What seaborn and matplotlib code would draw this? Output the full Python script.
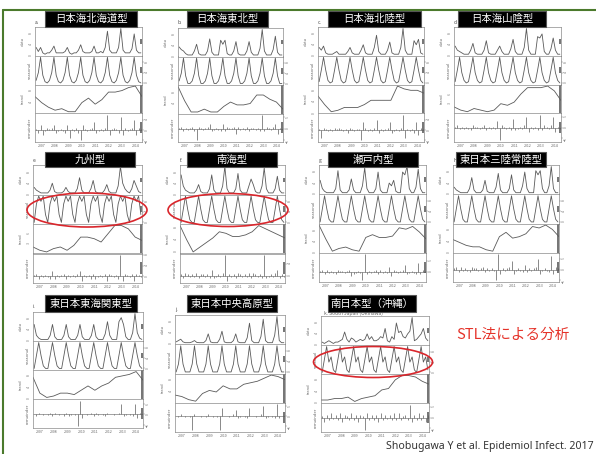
import numpy as np
import seaborn as sns
import matplotlib.pyplot as plt
from matplotlib.patches import Rectangle, Ellipse
from matplotlib.lines import Line2D
from matplotlib.ticker import MaxNLocator

# titres des panneaux
titles = ['日本海北海道型', '日本海東北型', '日本海北陸型', '日本海山陰型',
          '九州型', '南海型', '瀬戸内型', '東日本三陸常陸型',
          '東日本東海関東型', '東日本中央高原型', '南日本型（沖縄）']
letters = ['a.', 'b.', 'c.', 'd.', 'e.', 'f.', 'g.', 'h.', 'i.', 'j.', 'k. South Japan (Okinawa)']
year_labels = ['2007', '2008', '2009', '2010', '2011', '2012', '2013', '2014']
comp_names = ['data', 'seasonal', 'trend', 'remainder']

# a. 日本海北海道型
a_data = [3,1.5,3,1,.5,1, 1,2,3.5,1,1,1, 1,1.5,3,1,.5,1, 1,2,4,1.5,1,1, 1,1.5,3.5,1,1,1.5, 1,3,9,2,1,1, 1,3,10,2,1,1, 1,2.5,8,2,1,1]
a_seas = [1,4,10,3,.5,0, 1,4,10,3,.5,0, 1,4,10,3,.5,0, 1,4,10,3,.5,0, 1,4,10,3,.5,0, 1,4,10,3,.5,0, 1,4,10,3,.5,0, 1,4,10,3,.5,0]
a_trend = [6,4,2.5,1.5,2,1,1,4,5.5,3.5,5,7.5,7.5,8,9,9.5,6]
a_rem = [.5,-1,2,-2,-.5,1, .5,1,2,-1,-.5,.5, -.5,-1,2,-3,.5,-.5, 1,-1,-4,2,.5,-.5, .5,1,3,-1,-.5,.5, -.5,1,6,-2,.5,1, .5,-1,5,-2,1,-.5, .5,1,4,-2,1,.5]

# b. 日本海東北型
b_data = [3.5,2.5,2,1,.5,.5, .5,2,4.5,1,.5,.5, .5,2,6.5,1.5,.5,.5, .5,6,4.5,6,1,.5, .5,2,5.5,1,.5,.5, .5,2,5.5,1.5,.5,.5, .5,3,10,2,.5,.5, .5,2.5,7.5,1.5,.5,.5]
b_seas = [1,4,10,3,0,0, 1,4,10,3,0,0, 1,4,10,3,0,0, 1,4,10,3,0,0, 1,4,10,3,0,0, 1,4,10,3,0,0, 1,4,10,3,0,0, 1,4,10,3,0,0]
b_trend = [10,5,1,1,2,1,1,3,4.5,3.5,3.5,4,7,7,5.5,4.5,2]
b_rem = [.5,1,-1,.5,-.5,.5, 1,-1,-5,1,.5,-.5, .5,1,2,-1,-.5,.5, -.5,-1,2,-1,1,.5, .5,1,-2,1,-.5,.5, -.5,1,-1,.5,.5,-.5, .5,-1,6,-1,1,.5, -.5,1,2,-2,.5,-.5]

# c. 日本海北陸型
c_data = [3,2,3.5,1,.5,.5, .5,1,1.5,.5,.5,.5, .5,1.5,3,1,.5,.5, .5,2,4,1,.5,.5, .5,3,7.5,1.5,.5,.5, .5,2,5,1,.5,.5, .5,3,10,2,.5,.5, .5,5.5,4,6,1,.5]
c_seas = [.5,5,10,5,1,0, .5,5,10,5,1,0, .5,5,10,5,1,0, .5,5,10,5,1,0, .5,5,10,5,1,0, .5,5,10,5,1,0, .5,5,10,5,1,0, .5,5,10,5,1,0]
c_trend = [6,3,.5,1,2,2,2,3,4.5,4.5,4.5,4.5,9.5,8.5,8,8,7]
c_rem = [.5,-3,1,.5,-.5,.5, -.5,1,.5,1,.5,-.5, .5,-1,1,.5,-.5,.5, .5,-4,3,1,-.5,.5, -.5,1,4,-1,.5,-.5, .5,1,3,-1,-.5,.5, -.5,1,6,-3,.5,-.5, .5,-1,3,-2,1,.5]

# d. 日本海山陰型
d_data = [3.5,2,1.5,1,.5,.5, .5,2,4.5,1,.5,.5, .5,2,5.5,1,.5,.5, .5,2,3.5,1.5,.5,.5, .5,2.5,6,1.5,.5,.5, .5,3,10,2,.5,.5, .5,7,6.5,8,1.5,.5, .5,2.5,6.5,2,.5,.5]
d_seas = [.5,5,10,4,1,0, .5,5,10,4,1,0, .5,5,10,4,1,0, .5,5,10,4,1,0, .5,5,10,4,1,0, .5,5,10,4,1,0, .5,5,10,4,1,0, .5,5,10,4,1,0]
d_trend = [2,1,.5,1.5,1,.5,1,3,2.5,3.5,6,8,8,8,8.5,7,4]
d_rem = [.5,1,-.5,.5,-.5,.5, -.5,-1,1,.5,.5,-.5, .5,1,-1,.5,-.5,.5, -.5,3,-6,1,.5,-.5, .5,-1,4,-1,-.5,.5, -.5,1,5,-2,.5,-.5, .5,-1,6,-1,1,.5, -.5,1,5,-2,.5,-.5]

# e. 九州型
e_data = [2.5,1.5,1,.5,.5,.5, .5,1.5,4,1,.5,.5, .5,1,2.5,1,.5,.5, .5,2,6,1.5,.5,.5, .5,2,5,1,.5,.5, .5,1.5,3.5,1,.5,.5, .5,3,10,4,2,1, .5,2,5,3,1,.5]
e_seas = [0,7,10,8,10,3, 0,7,10,8,10,3, 0,7,10,8,10,3, 0,7,10,8,10,3, 0,7,10,8,10,3, 0,7,10,8,10,3, 0,7,10,8,10,3, 0,7,10,8,10,3]
e_trend = [2,1,.5,1.5,2,1,2.5,5,5,4.5,3.5,6,8.5,8.5,7.5,5,4]
e_rem = [.5,1,-1,.5,-.5,.5, -.5,-1,2,-1,.5,-.5, .5,1,-1,.5,-.5,.5, -.5,1,2,-2,.5,-.5, .5,-1,1,-1,-.5,.5, -.5,1,-2,1,.5,-.5, .5,-1,8,-2,1,.5, -.5,1,-2,1,.5,-.5]

# f. 南海型
f_data = [7,3,1.5,1,.5,.5, .5,1.5,3.5,1,.5,.5, .5,2,7,1.5,.5,.5, .5,3,10,2,.5,.5, .5,2,7.5,1.5,.5,.5, .5,3,5.5,3.5,1,.5, .5,3,9.5,2,.5,.5, .5,2,6.5,1.5,.5,.5]
f_seas = [0,5,10,5,1,0, 0,5,10,5,1,0, 0,5,10,5,1,0, 0,5,10,5,1,0, 0,5,10,5,1,0, 0,5,10,5,1,0, 0,5,10,5,1,0, 0,5,10,5,1,0]
f_trend = [8.5,4,0,1.5,3,4.5,6.5,6,5,5,5.5,6.5,8.5,7.5,6.5,5.5,4.5]
f_rem = [.5,-1,1,.5,-.5,.5, -.5,1,-1,.5,.5,-.5, .5,-1,2,-1,-.5,.5, -.5,1,7,-2,.5,-.5, .5,-1,1,.5,-.5,.5, -.5,1,-1,1,.5,-.5, .5,-1,7,-1,-.5,.5, -.5,1,2,-1,.5,-.5]

# g. 瀬戸内型
g_data = [5,2,1,.5,.5,.5, .5,2,8.5,1.5,.5,.5, .5,1.5,5.5,1.5,.5,.5, .5,3,9.5,2,.5,.5, .5,2,8,1.5,.5,.5, .5,4,3,5,1,.5, .5,8,7,10,2,.5, .5,2.5,9,2,.5,.5]
g_seas = [0,5,10,5,1,0, 0,5,10,5,1,0, 0,5,10,5,1,0, 0,5,10,5,1,0, 0,5,10,5,1,0, 0,5,10,5,1,0, 0,5,10,5,1,0, 0,5,10,5,1,0]
g_trend = [10,5,.5,1.5,2,1,.5,5.5,6.5,5.5,5.5,6,9,8.5,9.5,7.5,5]
g_rem = [.5,1,-1,1,-.5,.5, -.5,-1,1,.5,.5,-.5, .5,1,-2,-1,-.5,.5, -.5,-4,8,-1,.5,-.5, .5,1,-1,1,-.5,.5, -.5,2,-2,1,.5,-.5, .5,1,3,-1,-.5,.5, -.5,-1,4,-1,1,.5]

# h. 東日本三陸常陸型
h_data = [2.5,1.5,1,.5,.5,.5, .5,2,6,1.5,.5,.5, .5,1.5,5,1,.5,.5, .5,2.5,7.5,1.5,.5,.5, .5,2,7,1.5,.5,.5, .5,3,8,2,.5,.5, .5,8.5,7,8.5,2,.5, .5,3,10,2,.5,.5]
h_seas = [0,5,10,5,1,0, 0,5,10,5,1,0, 0,5,10,5,1,0, 0,5,10,5,1,0, 0,5,10,5,1,0, 0,5,10,5,1,0, 0,5,10,5,1,0, 0,5,10,5,1,0]
h_trend = [4.5,3.5,2.5,2,2,1,.5,5.5,7,5,5.5,6.5,9,8.5,9.5,8,5.5]
h_rem = [.5,1,-1,1,-.5,.5, -.5,-1,1,.5,.5,-.5, .5,1,-1,.5,-.5,.5, -.5,-5,7,-2,.5,-.5, .5,1,4,-2,-.5,.5, -.5,-1,2,-1,.5,-.5, .5,1,5,-2,-.5,.5, -.5,-1,6,-2,1,.5]

# i. 東日本東海関東型
i_data = [6,2,1,.5,.5,.5, .5,2,6,1.5,.5,.5, .5,2,6,1.5,.5,.5, .5,2,6,1.5,.5,.5, .5,2,6,1.5,.5,.5, .5,2.5,7,2,.5,.5, .5,7,8.5,6,1.5,.5, .5,3,10,3,1,.5]
i_seas = [0,5,10,5,1,0, 0,5,10,5,1,0, 0,5,10,5,1,0, 0,5,10,5,1,0, 0,5,10,5,1,0, 0,5,10,5,1,0, 0,5,10,5,1,0, 0,5,10,5,1,0]
i_trend = [7.5,2,.5,1,2,2,1.5,3,4.5,3,4.5,5.5,7.5,8,8.5,9.5,6.5]
i_rem = [.5,-1,1,.5,-.5,.5, -.5,1,-1,1,.5,-.5, .5,-1,1,-1,-.5,.5, -.5,-7,8,-2,.5,-.5, .5,1,-1,1,-.5,.5, -.5,-1,1,.5,.5,-.5, .5,1,6,-1,-.5,.5, -.5,-1,6,-2,1,.5]

# j. 東日本中央高原型
j_data = [.5,1,1.5,.5,.2,.2, .2,.5,1,.3,.2,.2, .2,1,3.5,.5,.2,.2, .2,1.5,4.5,.5,.2,.2, .2,1,3.5,.5,.2,.2, .2,2,7.5,1,.2,.2, .2,2.5,9,1,.2,.2, .2,3,10,1,.2,.2]
j_seas = [0,3,10,3,0,0, 0,3,10,3,0,0, 0,3,10,3,0,0, 0,3,10,3,0,0, 0,3,10,3,0,0, 0,3,10,3,0,0, 0,3,10,3,0,0, 0,3,10,3,0,0]
j_trend = [3,2.5,1.5,1,3.5,4.5,4,6,5,5,6.5,7,7.5,8.5,9.5,9,8]
j_rem = [.3,-.3,1,.3,-.3,.3, -.3,-7,1,.3,.3,-.3, .3,-.3,1,.3,-.3,.3, -.3,-7,4,.3,.3,-.3, .3,1,3,-1,-.3,.3, -.3,-1,4,.3,.3,-.3, .3,1,5,-1,-.3,.3, -.3,-1,6,-1,.3,.3]

# k. 南日本型（沖縄）
k_data = [1,.5,1,1.5,1,.5, 1,1,1.5,2,4.7,2, 1,2.5,2,1,1.5,2, 1.5,2,4,2,3,1.5, 1.5,2,3,2.5,6,1.5, 1,3,2,8,4.5,5, 3,2.5,4,5,10,1.5, 2,3,4,6,2.5,1.5]
k_seas = [0,5,10,4,6,1, 0,5,10,4,6,1, 0,5,10,4,6,1, 0,5,10,4,6,1, 0,5,10,4,6,1, 0,5,10,4,6,1, 0,5,10,4,6,1, 0,5,10,4,6,1]
k_trend = [1,1,1.5,1.5,2,.5,1.5,2,2.5,4.5,5,8,9.5,9.5,9,7.5,6.5]
k_rem = [.5,-2,1,-1,2,-.5, 1,-1,2,-2,1,.5, -1,2,-1,1,-2,1, .5,-6,2,-1,1,-1, 1,-2,2,-1,1,-.5, 1,-1,2,-1,2,-1, .5,1,-1,6,-2,1, -1,2,-1,1,-2,1]

panels = [
    (a_data, a_seas, a_trend, a_rem), (b_data, b_seas, b_trend, b_rem),
    (c_data, c_seas, c_trend, c_rem), (d_data, d_seas, d_trend, d_rem),
    (e_data, e_seas, e_trend, e_rem), (f_data, f_seas, f_trend, f_rem),
    (g_data, g_seas, g_trend, g_rem), (h_data, h_seas, h_trend, h_rem),
    (i_data, i_seas, i_trend, i_rem), (j_data, j_seas, j_trend, j_rem),
    (k_data, k_seas, k_trend, k_rem),
]

# position des panneaux en pixels : gauche, haut, droite, bas
W, H = 596, 454
rects = [(35, 27, 142, 142), (178, 28, 283, 142), (318, 27, 424, 142), (454, 27, 561, 142),
         (33, 165, 142, 283), (180, 165, 285, 283), (319, 165, 426, 282), (453, 165, 559, 282),
         (33, 312, 143, 428), (175, 315, 285, 432), (321, 316, 429, 432)]
boxes = [(45, 11, 137, 27), (187, 11, 268, 27), (328, 11, 421, 27), (458, 11, 546, 27),
         (45, 152, 135, 167), (187, 152, 277, 167), (328, 152, 418, 167), (456, 152, 546, 167),
         (45, 295, 137, 312), (187, 295, 277, 312), (328, 295, 416, 312)]

t_month = 2007 + (np.arange(48) + 0.5) / 6
t_half = 2007 + np.arange(17) / 2

LINE = '#5a5a5a'
FRAME = '#8a8a8a'


def fx(x):
    return x / W


def fy(y):
    return 1 - y / H


def stl_panel(fig, rect, comps):
    left, top, right, bottom = rect
    h = (bottom - top) / 4
    bar_h = [0.15, 0.2, 1.0, 0.4]
    for i, (name, vals) in enumerate(zip(comp_names, comps)):
        ax = fig.add_axes([fx(left), fy(top + (i + 1) * h), (right - left) / W, h / H])
        if name == 'remainder':
            ax.vlines(t_month, 0, vals, color=LINE, lw=0.5)
            ax.axhline(0, color=LINE, lw=0.4)
        elif name == 'trend':
            sns.lineplot(x=t_half, y=vals, ax=ax, color=LINE, lw=0.6)
        else:
            sns.lineplot(x=t_month, y=vals, ax=ax, color=LINE, lw=0.6)
        ax.set_xlim(2007, 2015)
        ax.margins(y=0.06)
        ax.yaxis.set_major_locator(MaxNLocator(3))
        ax.tick_params(axis='y', labelsize=2.5, length=1.2, width=0.3, pad=0.6,
                       labelrotation=90, colors='#777')
        if i in (1, 3):
            ax.yaxis.tick_right()
        ax.set_ylabel(name, fontsize=3, labelpad=2.5, color='#666')
        for s in ax.spines.values():
            s.set_color(FRAME)
            s.set_linewidth(0.5)
        ax.add_patch(Rectangle((0.985, 0.5 - bar_h[i] / 2), 0.015, bar_h[i],
                               transform=ax.transAxes, color='#777', lw=0))
        if i == 3:
            ax.set_xticks(range(2007, 2016))
            ax.set_xticklabels([])
            ax.set_xticks([y + 0.5 for y in range(2007, 2015)], minor=True)
            ax.set_xticklabels(year_labels, minor=True)
            ax.tick_params(axis='x', which='major', length=2.5, width=0.3, colors='#777')
            ax.tick_params(axis='x', which='minor', length=0, labelsize=2.5, pad=1.5,
                           colors='#666')
        else:
            ax.set_xticks([])


sns.set_style('white')
plt.rcParams['font.family'] = ['Noto Sans CJK JP', 'DejaVu Sans']

fig = plt.figure(figsize=(5.96, 4.54), dpi=100)

for n in range(len(panels)):
    stl_panel(fig, rects[n], panels[n])
    l, t, r, b = boxes[n]
    fig.patches.append(Rectangle((fx(l), fy(b)), (r - l) / W, (b - t) / H, transform=fig.transFigure,
                                 facecolor='black', edgecolor='#555', lw=0.8, zorder=5))
    fig.text(fx((l + r) / 2), fy((t + b) / 2), titles[n], color='white', fontsize=7.5,
             ha='center', va='center', zorder=6)
    rl, rt = rects[n][0], rects[n][1]
    if n == 10:
        fig.text(fx(rl + 3), fy(rt - 3), letters[n], fontsize=3.5, color='#666', va='center', zorder=4)
    else:
        fig.text(fx(rl), fy(rt - 5), letters[n], fontsize=3.5, color='#444', va='center', zorder=4)

# ellipses rouges
for cx, cy, w, h in [(87, 210, 120, 34), (228, 210, 120, 33), (373, 362, 119, 31)]:
    fig.patches.append(Ellipse((fx(cx), fy(cy)), w / W, h / H, transform=fig.transFigure,
                               fill=False, edgecolor='#d9262c', lw=1.2, zorder=7))

fig.text(fx(456), fy(335), 'STL法による分析', color='#e5332a', fontsize=10.5, va='center')
fig.text(fx(594), fy(447), 'Shobugawa Y et al. Epidemiol Infect. 2017', color='#333',
         fontsize=7.6, ha='right', va='center', family=['Noto Sans', 'DejaVu Sans'])

# cadre vert
fig.lines.append(Line2D([fx(3), 1], [fy(10), fy(10)], transform=fig.transFigure, color='#4b7a2c', lw=1.5))
fig.lines.append(Line2D([fx(3), fx(3)], [0, fy(10)], transform=fig.transFigure, color='#4b7a2c', lw=1.5))

fig.savefig('out.png', dpi=100)
